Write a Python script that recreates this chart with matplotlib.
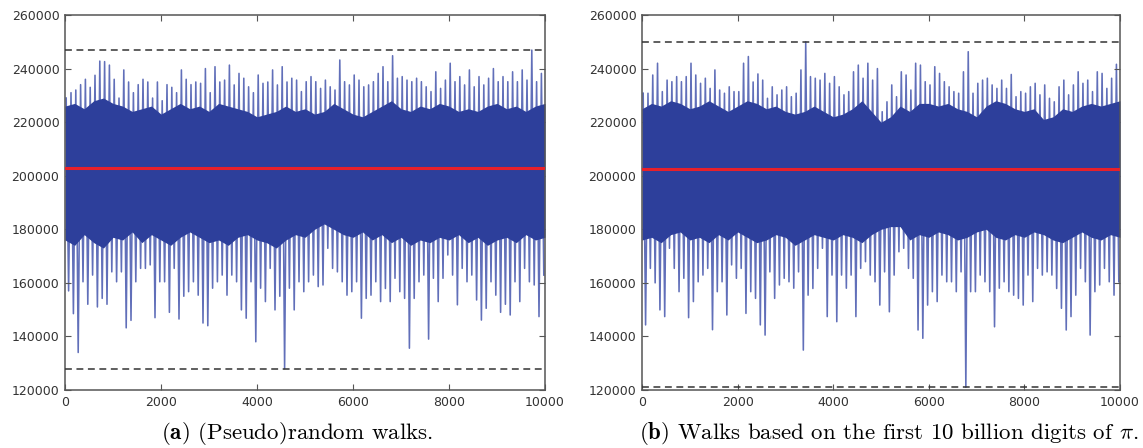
import numpy as np
import matplotlib
matplotlib.use("Agg")
import matplotlib.pyplot as plt

# ---------------- data ----------------
step = 100  # spacing (walk index) of the sampled extremes
band_step = 200  # spacing of the dense-core envelope samples

# (a) pseudorandom walks
upper_a = [229000, 231000, 232000, 234000, 236000, 233000, 237500, 242800, 242600, 241300,
           236000, 229000, 239500, 235000, 231000, 234000, 236000, 235000, 229000, 235000,
           228000, 234000, 233000, 231000, 239500, 236000, 234000, 235000, 234500, 240000,
           231000, 240700, 235000, 235700, 241300, 233900, 238200, 236400, 233200, 231000,
           237600, 234500, 235000, 239500, 233900, 240700, 235000, 236400, 235700, 231400,
           235100, 237000, 235100, 232600, 235700, 233200, 232000, 243200, 235100, 233900,
           237600, 235700, 233200, 233900, 235100, 238200, 240700, 235100, 244800, 236400,
           237000, 235700, 235100, 236400, 235100, 233200, 231400, 238800, 232600, 235700,
           242000, 235100, 237000, 233900, 239500, 233200, 237000, 233900, 236400, 240000,
           235100, 237000, 235100, 238800, 235100, 239500, 235700, 246900, 235100, 238200]
lower_a = [157000, 148500, 134000, 160400, 152000, 162900, 151000, 154200, 152000, 164100,
           160400, 164100, 143200, 146000, 160400, 165400, 165400, 166700, 147000, 160400,
           160400, 149000, 165400, 146500, 155000, 156700, 160400, 155400, 145000, 144000,
           158000, 160400, 162900, 155400, 162900, 160400, 149900, 146800, 160400, 138000,
           158000, 153000, 165400, 149900, 155000, 128000, 158000, 149900, 160400, 156700,
           160400, 162900, 158600, 159200, 172900, 165400, 164100, 160400, 155400, 156700,
           160400, 146800, 154200, 155400, 160400, 153000, 157900, 153000, 161700, 156700,
           154200, 135600, 154200, 160400, 162900, 139000, 161700, 153000, 161700, 170400,
           162900, 151800, 165400, 160400, 162900, 153600, 146100, 150500, 160400, 155400,
           149000, 152000, 148000, 160400, 153000, 165400, 160400, 159200, 147400, 162900]
band_hi_a = [226000, 227000, 225000, 228000, 229000, 227000, 226000, 224000, 225000, 226000,
             223000, 225000, 227000, 225000, 226000, 224000, 227000, 226000, 225000, 224000,
             222000, 223000, 224000, 226000, 224000, 225000, 223000, 224000, 227000, 225000,
             223000, 222000, 224000, 226000, 228000, 225000, 224000, 226000, 225000, 227000,
             226000, 224000, 225000, 224000, 226000, 227000, 225000, 226000, 224000, 226000, 227000]
band_lo_a = [176000, 174000, 178000, 175000, 173000, 177000, 176000, 179000, 175000, 178000,
             176000, 174000, 177000, 179000, 177000, 175000, 176000, 174000, 177000, 178000,
             176000, 175000, 173000, 176000, 178000, 177000, 180000, 182000, 180000, 178000,
             177000, 179000, 176000, 178000, 175000, 177000, 174000, 176000, 175000, 177000,
             176000, 178000, 175000, 177000, 174000, 176000, 177000, 175000, 178000, 176000, 177000]
mean_a = 203000
bounds_a = (247000, 128000)

# (b) walks on the digits of pi
upper_b = [230800, 230800, 237600, 242000, 231400, 235700, 235100, 237000, 235100, 237000,
           242000, 237600, 234500, 236400, 232600, 239500, 232000, 230800, 233200, 231400,
           231400, 242000, 244500, 235000, 238000, 235700, 228900, 233200, 230200, 232000,
           233200, 229500, 230800, 239500, 250000, 237000, 236400, 235700, 238200, 234500,
           237000, 233200, 230200, 231400, 238800, 241300, 236400, 242000, 235700, 240000,
           223900, 227600, 233900, 229500, 238800, 237600, 232000, 242000, 241300, 235100,
           233900, 240700, 238200, 235100, 233200, 231400, 230800, 238800, 246300, 230800,
           234500, 235700, 236400, 233900, 232600, 235700, 232600, 237800, 229500, 231400,
           230800, 233200, 234500, 230200, 233900, 228900, 227600, 233200, 235700, 230200,
           233900, 238800, 234500, 235700, 231400, 238800, 238200, 232600, 236400, 241600]
lower_b = [144300, 165400, 160000, 149900, 147400, 172900, 165400, 156700, 161700, 147000,
           153000, 160400, 162900, 165400, 142500, 156700, 160400, 148000, 166700, 161700,
           165400, 148600, 156700, 154200, 144300, 140500, 164100, 154200, 159200, 161700,
           160400, 158000, 164100, 134900, 155400, 157900, 165400, 172900, 147400, 162900,
           145500, 162900, 158000, 162900, 147400, 165400, 167900, 162900, 160400, 151700,
           164100, 149200, 162900, 171600, 172900, 165400, 161700, 142400, 139300, 151700,
           156700, 153000, 162900, 160400, 160400, 156700, 164100, 121000, 156700, 156700,
           162900, 160400, 156700, 143600, 158000, 160400, 156700, 155400, 154200, 151700,
           162900, 153000, 165400, 162900, 164100, 162900, 157900, 150500, 142400, 147400,
           155400, 165400, 160400, 140500, 156700, 159200, 165400, 160400, 155400, 160400]
band_hi_b = [225000, 227000, 226000, 228000, 227000, 225000, 226000, 228000, 226000, 224000,
             226000, 228000, 227000, 225000, 226000, 224000, 223000, 224000, 226000, 224000,
             222000, 223000, 225000, 228000, 224000, 220000, 222000, 226000, 224000, 227000,
             227000, 226000, 227000, 225000, 224000, 222000, 226000, 228000, 227000, 225000,
             224000, 225000, 221000, 222000, 225000, 224000, 226000, 227000, 226000, 227000, 228000]
band_lo_b = [176000, 177000, 175000, 178000, 179000, 176000, 177000, 175000, 178000, 176000,
             179000, 177000, 175000, 176000, 178000, 177000, 174000, 176000, 178000, 177000,
             176000, 178000, 177000, 175000, 178000, 180000, 181000, 181000, 176000, 178000,
             177000, 179000, 178000, 176000, 177000, 179000, 180000, 177000, 176000, 178000,
             177000, 179000, 178000, 176000, 175000, 177000, 179000, 177000, 176000, 178000, 177000]
mean_b = 202500
bounds_b = (250000, 121000)

captions = [r"$\mathbf{(a)}$ (Pseudo)random walks.",
            r"$\mathbf{(b)}$ Walks based on the first 10 billion digits of $\pi$."]
x_ticks = [0, 2000, 4000, 6000, 8000, 10000]
y_ticks = [120000, 140000, 160000, 180000, 200000, 220000, 240000, 260000]

# ---------------- drawing ----------------
plt.rcParams['mathtext.fontset'] = 'cm'
W, H = 1143, 448
fig = plt.figure(figsize=(W / 100, H / 100), dpi=100)

core = '#2d3f9b'
spike = '#4556ad'

panels = [
    (upper_a, lower_a, band_hi_a, band_lo_a, mean_a, bounds_a, (65, 480), 297),
    (upper_b, lower_b, band_hi_b, band_lo_b, mean_b, bounds_b, (642, 478), 889),
]
for i, (up, lo, bh, bl, mean, bnd, (px0, pw), cap_x) in enumerate(panels):
    ax = fig.add_axes([px0 / W, (H - 390) / H, pw / W, 375 / H])
    # the walk alternates between the sampled highs and lows
    n = len(up)
    xs = np.empty(2 * n)
    ys = np.empty(2 * n)
    xs[0::2] = np.arange(n) * step + step * 0.25
    xs[1::2] = np.arange(n) * step + step * 0.75
    ys[0::2] = up
    ys[1::2] = lo
    ax.plot(xs, ys, color=spike, lw=1.15, alpha=0.85, zorder=1)
    xb = np.arange(len(bh)) * band_step
    ax.fill_between(xb, bl, bh, color=core, lw=0, zorder=2)
    ax.axhline(mean, color='#e8202a', lw=2.2, zorder=4)
    for b in bnd:
        ax.axhline(b, color='#333333', lw=1.1, ls=(0, (4.5, 3)), zorder=3)
    ax.set_xlim(0, 10000)
    ax.set_ylim(120000, 260000)
    ax.set_xticks(x_ticks)
    ax.set_yticks(y_ticks)
    ax.set_xticklabels([str(v) for v in x_ticks])
    ax.set_yticklabels([str(v) for v in y_ticks])
    ax.tick_params(direction='in', length=4, width=0.8, top=True, right=True,
                   labelsize=9, colors='#555555', labelcolor='#333333', pad=4)
    for s in ax.spines.values():
        s.set_color('#555555')
        s.set_linewidth(1.1)
    fig.text(cap_x / W, 1 - 433 / H, captions[i], ha='center', va='center',
             fontsize=16.5, family='cmr10')

fig.savefig('out.png', dpi=100)
